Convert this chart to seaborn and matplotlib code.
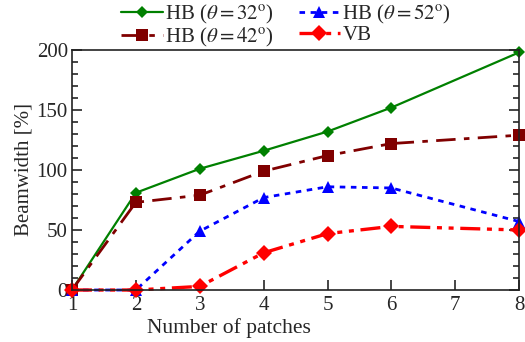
import matplotlib
matplotlib.use("Agg")
import matplotlib.pyplot as plt
import seaborn as sns
import pandas as pd
from matplotlib.ticker import MultipleLocator

patches = [1, 2, 3, 4, 5, 6, 8]
hb32 = [0, 81, 101, 116, 132, 152, 198]
hb42 = [0, 73, 79, 99, 112, 122, 129]
hb52 = [0, 0, 49, 77, 86, 85, 57]
vb = [0, 0, 3, 31, 47, 53, 50]

labels = [r'HB ($\theta = 32^{\rm o}$)', r'HB ($\theta = 42^{\rm o}$)',
          r'HB ($\theta = 52^{\rm o}$)', 'VB']

sns.set_style("ticks")
plt.rcParams['font.family'] = ['Liberation Serif', 'DejaVu Serif']
plt.rcParams['mathtext.fontset'] = 'stix'

fig = plt.figure(figsize=(5.25, 3.42), dpi=100)
ax = fig.add_axes([0.137, 0.152, 0.852, 0.702])

styles = [
    dict(color='#008000', marker='D', ms=6, lw=1.6, ls='-'),
    dict(color='#800000', marker='s', ms=9, lw=2.0, ls=(0, (7, 3, 2, 3))),
    dict(color='#0000ff', marker='^', ms=9, lw=2.0, ls=(0, (2, 2))),
    dict(color='#ff0000', marker='D', ms=8, lw=2.4, ls=(0, (6, 2, 1.5, 2, 1.5, 2))),
]
series = [hb32, hb42, hb52, vb]
for vals, lab, st in zip(series, labels, styles):
    df = pd.DataFrame({'x': patches, 'y': vals})
    sns.lineplot(data=df, x='x', y='y', ax=ax, label=lab, color=st['color'],
                 marker=st['marker'], markersize=st['ms'], linewidth=st['lw'],
                 linestyle=st['ls'], markeredgewidth=0, clip_on=False)

ax.set_xlim(1, 8)
ax.set_ylim(0, 200)
ax.set_xticks([1, 2, 3, 4, 5, 6, 7, 8])
ax.set_yticks([0, 50, 100, 150, 200])
ax.yaxis.set_minor_locator(MultipleLocator(10))
ax.tick_params(axis='y', which='both', direction='in', right=True, left=True, labelsize=15, pad=3)
ax.tick_params(axis='y', which='major', length=7, width=1.2)
ax.tick_params(axis='y', which='minor', length=4, width=1.2)
ax.tick_params(axis='x', which='major', direction='in', top=False, length=7, width=1.2,
               labelsize=15, pad=4)
for s in ax.spines.values():
    s.set_linewidth(1.2)
    s.set_color('#222222')
ax.set_xlabel('Number of patches', fontsize=15.5)
ax.xaxis.set_label_coords(0.351, -0.118, transform=ax.transAxes)
ax.xaxis.label.set_va('top')
ax.set_ylabel('Beamwidth [%]', fontsize=15, labelpad=2)

h, l = ax.get_legend_handles_labels()
ax.get_legend().remove()
fig.legend(h, l, loc='upper center', bbox_to_anchor=(0.545, 1.035), ncol=2, frameon=False,
           fontsize=15, handlelength=2.0, handletextpad=0.1, columnspacing=1.2,
           labelspacing=0.0, borderpad=0.2)

fig.savefig('out.png', dpi=100)
